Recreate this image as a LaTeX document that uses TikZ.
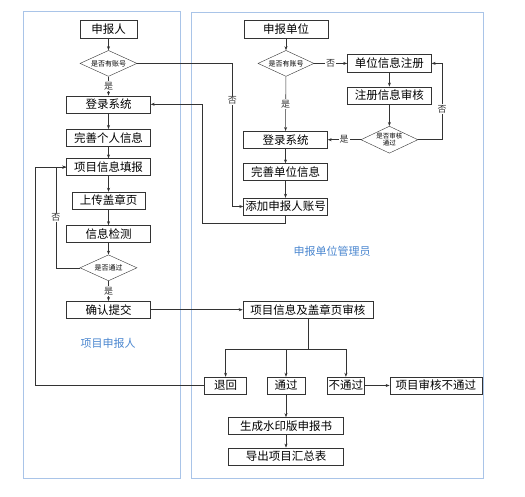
\documentclass[tikz,border=0pt]{standalone}
\usepackage{fontspec}
\usetikzlibrary{arrows.meta,positioning,shapes.geometric}
\newfontfamily\cjk{Noto Sans CJK SC}
\definecolor{LaneBlue}{HTML}{A9C4E8}
\definecolor{TitleBlue}{HTML}{4A86CF}
\definecolor{LineGray}{HTML}{333333}

\begin{document}
\begin{tikzpicture}[x=1pt,y=-1pt,
    box/.style={draw=LineGray, rectangle, minimum width=84pt, minimum height=17pt, inner sep=0pt, font=\cjk\fontsize{11.5}{13}\selectfont},
    dec/.style={draw=LineGray, diamond, aspect=2, minimum width=57pt, minimum height=26pt, inner sep=0pt, align=center, font=\cjk\fontsize{7}{8}\selectfont},
    link/.style={LineGray, line width=0.6pt},
    arr/.style={link, -{Stealth[length=4pt,width=3pt]}},
    lbl/.style={fill=white, inner sep=1pt, font=\cjk\fontsize{9}{10}\selectfont},
    lane/.style={draw=LaneBlue, line width=1pt},
    title/.style={text=TitleBlue, font=\cjk\fontsize{11}{12}\selectfont}]

\useasboundingbox (0,0) rectangle (525,496);

% lanes
\draw[lane] (23,11) rectangle (180,478);
\draw[lane] (191,12) rectangle (483,478);
\node[title] (t1) at (108,343) {项目申报人};
\node[title] (t2) at (332,251) {申报单位管理员};

% left lane
\node[box, minimum width=57pt, minimum height=18pt] (a) at (108.5,29) {申报人};
\node[dec, below=12pt of a] (a1) {是否有账号};
\node[box, below=19pt of a1] (a2) {登录系统};
\node[box, below=16pt of a2] (a3) {完善个人信息};
\node[box, below=12pt of a3] (a4) {项目信息填报};
\node[box, minimum width=73pt, below=16pt of a4] (a5) {上传盖章页};
\node[box, below=16pt of a5] (a6) {信息检测};
\node[dec, below=12pt of a6] (a7) {是否通过};
\node[box, below=20pt of a7] (a8) {确认提交};

% right lane
\node[box, minimum height=18pt] (b) at (286,29) {申报单位};
\node[dec, minimum width=56pt, below=12pt of b] (b1) {是否有账号};
\node[box, minimum height=18pt, right=33pt of b1] (c1) {单位信息注册};
\node[box, below=14pt of c1] (c2) {注册信息审核};
\node[dec, minimum height=27pt, font=\cjk\fontsize{6.5}{7}\selectfont, below=22pt of c2] (c3) {是否审核\\通过};
\node[box, left=33pt of c3] (b2) {登录系统};
\node[box, below=15pt of b2] (b3) {完善单位信息};
\node[box, below=17pt of b3] (b4) {添加申报人账号};

% review
\node[box, minimum width=130pt, right=92pt of a8] (r) {项目信息及盖章页审核};
\node[box, minimum width=38pt] (r2) at (286,385.5) {通过};
\node[box, minimum width=42pt, left=20pt of r2] (r1) {退回};
\node[box, minimum width=37pt, right=22pt of r2] (r3) {不通过};
\node[box, minimum width=92pt, right=25pt of r3] (r4) {项目审核不通过};
\node[box, minimum width=115pt, below=23pt of r2] (r5) {生成水印版申报书};
\node[box, minimum width=115pt, below=13pt of r5] (r6) {导出项目汇总表};

% arrows, left lane
\draw[arr] (a) -- (a1);
\draw[arr] (a1) -- node[lbl]{是} (a2);
\draw[arr] (a2) -- (a3);
\draw[arr] (a3) -- (a4);
\draw[arr] (a4) -- (a5);
\draw[arr] (a5) -- (a6);
\draw[arr] (a6) -- (a7);
\draw[arr] (a7) -- node[lbl]{是} (a8);
\draw[arr] (a7.west) -- ++(-24,0) |- node[lbl, pos=0.25]{否} (a4.west);

% arrows, right lane
\draw[arr] (b) -- (b1);
\draw[arr] (b1) -- node[lbl]{是} (b2);
\draw[arr] (b1) -- node[lbl]{否} (c1);
\draw[arr] (c1) -- (c2);
\draw[arr] (c2) -- (c3);
\draw[arr] (c3) -- node[lbl]{是} (b2);
\draw[arr] (c3.east) -- ++(24,0) |- node[lbl, pos=0.2]{否} (c1.east);
\draw[arr] (b2) -- (b3);
\draw[arr] (b3) -- (b4);

% between lanes
\draw[arr] (a1.east) -| node[lbl, pos=0.63]{否} ([xshift=-11pt]b4.west) -- (b4.west);
\draw[arr] (b4.south) -- ++(0,8) -| ([xshift=51.5pt]a2.east) -- (a2.east);
\draw[arr] (a8) -- (r);

% review results
\draw[link] (r.south) -- ++(0,31) coordinate (s);
\draw[arr] (s) -| (r1);
\draw[arr] (s) -| (r2);
\draw[arr] (s) -| (r3);
\draw[arr] (r3) -- (r4);
\draw[arr] (r2) -- (r5);
\draw[arr] (r5) -- (r6);
\draw[arr] (r1.west) -| ([xshift=-31pt]a4.west) -- (a4.west);
\end{tikzpicture}
\end{document}
